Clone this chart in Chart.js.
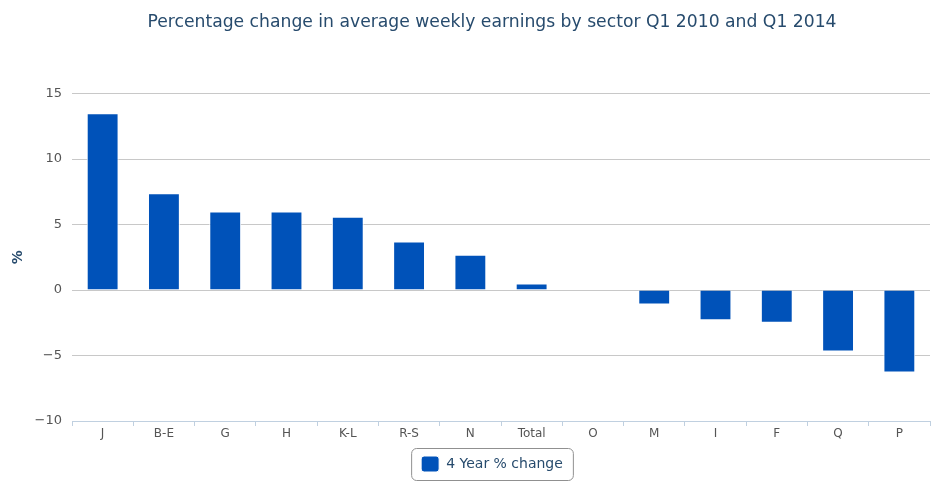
<!DOCTYPE html>
<html>
<head>
<meta charset="utf-8">
<script src="https://cdn.jsdelivr.net/npm/chart.js@4/dist/chart.umd.min.js"></script>
<style>
  html, body { margin: 0; padding: 0; background: #fff; }
  #wrap { width: 946px; height: 488px; }
</style>
</head>
<body>
<div id="wrap"><canvas id="earningsChart"></canvas></div>
<script>
const sectors = ['J', 'B-E', 'G', 'H', 'K-L', 'R-S', 'N', 'Total', 'O', 'M', 'I', 'F', 'Q', 'P'];
const changeValues = [13.5, 7.4, 6.0, 6.0, 5.6, 3.7, 2.7, 0.5, 0.0, -1.1, -2.3, -2.5, -4.7, -6.3];
const yTicks = [-10, -5, 0, 5, 10, 15];

const FONT = '"DejaVu Sans", "Liberation Sans", sans-serif';
const BAR_BLUE = '#0052B9';
const CENTRE_SHIFT = 27;

// title and legend are centred on the plot area, not the canvas; also box the legend
const legendBox = {
  id: 'legendBox',
  afterUpdate(chart) {
    const lg = chart.legend;
    if (lg) {
      lg.left += CENTRE_SHIFT;
      lg.right += CENTRE_SHIFT;
      lg.legendHitBoxes.forEach(hb => { hb.left += CENTRE_SHIFT; });
    }
    const t = chart.titleBlock;
    if (t) {
      t.left += CENTRE_SHIFT;
      t.right += CENTRE_SHIFT;
    }
  },
  afterDraw(chart) {
    const lg = chart.legend;
    if (!lg || !lg.legendHitBoxes.length) return;
    const hb = lg.legendHitBoxes[0];
    const ctx = chart.ctx;
    const x = hb.left - 10, y = hb.top - 8, w = hb.width + 20, h = hb.height + 16;
    ctx.save();
    ctx.strokeStyle = '#909090';
    ctx.lineWidth = 1;
    ctx.beginPath();
    ctx.roundRect(x + 0.5, y + 0.5, w, h, 5);
    ctx.stroke();
    ctx.restore();
  }
};

new Chart(document.getElementById('earningsChart'), {
  type: 'bar',
  data: {
    labels: sectors,
    datasets: [{
      label: '4 Year % change',
      data: changeValues,
      backgroundColor: BAR_BLUE,
      borderColor: '#ffffff',
      borderWidth: 1,
      barPercentage: 0.52,
      categoryPercentage: 1.0
    }]
  },
  options: {
    responsive: true,
    maintainAspectRatio: false,
    animation: false,
    layout: { padding: { left: 0, right: 16, bottom: 6 } },
    plugins: {
      title: {
        display: true,
        text: 'Percentage change in average weekly earnings by sector Q1 2010 and Q1 2014',
        color: '#274B6D',
        font: { family: FONT, size: 17.2, weight: 'normal' },
        padding: { top: 12, bottom: 61 }
      },
      legend: {
        position: 'bottom',
        labels: {
          color: '#274B6D',
          font: { family: FONT, size: 14 },
          boxWidth: 18,
          boxHeight: 16,
          padding: 12,
          useBorderRadius: true,
          borderRadius: 3
        }
      },
      tooltip: { enabled: false }
    },
    scales: {
      x: {
        afterFit: s => { s.height = 23; },
        border: { display: true, color: '#C0D0E0', width: 1 },
        grid: { display: true, drawOnChartArea: false, drawTicks: true, tickLength: 5, color: '#C0D0E0' },
        ticks: { color: '#555', font: { family: FONT, size: 12 }, padding: 1 }
      },
      y: {
        min: -10,
        max: 15,
        afterFit: s => { s.width = 72; },
        afterBuildTicks: s => { s.ticks = yTicks.map(v => ({ value: v })); },
        border: { display: false },
        grid: { color: '#C8C8C8', lineWidth: 1, drawTicks: false },
        ticks: { color: '#555', font: { family: FONT, size: 13 }, padding: 10,
          callback: v => (v < 0 ? '\u2212' + Math.abs(v) : v) },
        title: { display: true, text: '%', color: '#274B6D', font: { family: FONT, size: 14, weight: 'bold' },
          padding: { top: 10, bottom: 0 } }
      }
    }
  },
  plugins: [legendBox]
});
</script>
</body>
</html>
